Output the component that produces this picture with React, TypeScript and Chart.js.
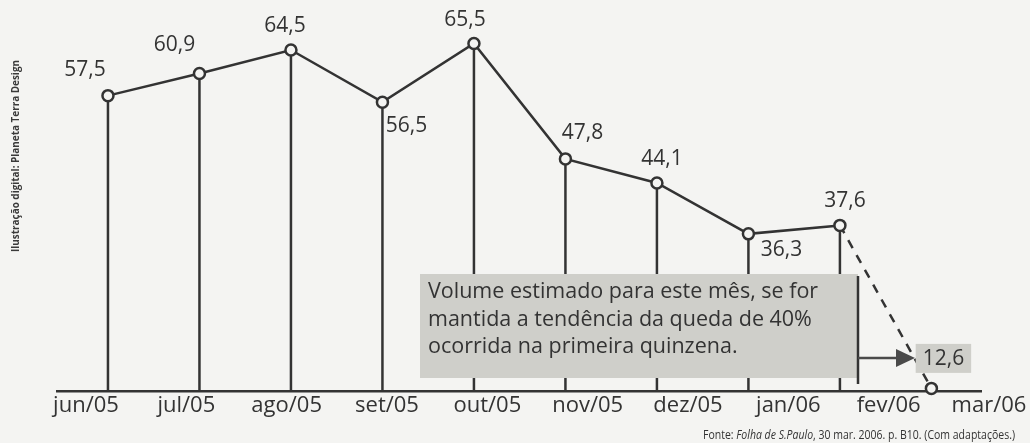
import React, { useEffect, useRef } from 'react';
import { Chart, registerables } from 'chart.js';

Chart.register(...registerables);

// ---- data ----
const months = ['jun/05', 'jul/05', 'ago/05', 'set/05', 'out/05', 'nov/05', 'dez/05', 'jan/06', 'fev/06', 'mar/06'];
const volume = [57.5, 60.9, 64.5, 56.5, 65.5, 47.8, 44.1, 36.3, 37.6, 12.6];
const estimated = [false, false, false, false, false, false, false, false, false, true];

// ---- texts ----
const calloutLines = [
  'Volume estimado para este mês, se for',
  'mantida a tendência da queda de 40%',
  'ocorrida na primeira quinzena.',
];
const sourceParts = [
  { text: 'Fonte: ', italic: false },
  { text: 'Folha de S.Paulo', italic: true },
  { text: ', 30 mar. 2006. p. B10. (Com adaptações.)', italic: false },
];
const creditText = 'Ilustração digital: Planeta Terra Design';

// ---- layout / style (not data) ----
const labelOffsets: [number, number][] = [
  [-23, -27], [-25, -29], [-6, -25], [24, 23], [-9, -24],
  [17, -27], [5, -25], [33, 15], [5, -25], [12, -30],
];
const INK = '#333333';
const BG = '#f4f4f2';
const BOX = '#cfcfca';
const FONT = '"Open Sans", "Noto Sans", sans-serif';

const fmt = (v: number) => v.toFixed(1).replace('.', ',');

const dropLines = {
  id: 'dropLines',
  beforeDatasetsDraw(chart: any) {
    const { ctx, chartArea } = chart;
    const meta = chart.getDatasetMeta(0);
    ctx.save();
    ctx.strokeStyle = INK;
    ctx.lineWidth = 2.5;
    meta.data.forEach((pt: any) => {
      ctx.beginPath();
      ctx.moveTo(pt.x, pt.y);
      ctx.lineTo(pt.x, chartArea.bottom);
      ctx.stroke();
    });
    ctx.restore();
  },
};

const annotations = {
  id: 'annotations',
  afterDatasetsDraw(chart: any) {
    const { ctx } = chart;
    const meta = chart.getDatasetMeta(0);
    ctx.save();

    // callout box
    ctx.fillStyle = BOX;
    ctx.fillRect(420, 274, 438, 104);
    ctx.strokeStyle = INK;
    ctx.lineWidth = 2.5;
    ctx.beginPath();
    ctx.moveTo(858, 276);
    ctx.lineTo(858, 384);
    ctx.stroke();
    ctx.fillStyle = INK;
    ctx.font = `21.5px ${FONT}`;
    ctx.textAlign = 'left';
    ctx.textBaseline = 'alphabetic';
    calloutLines.forEach((line, i) => ctx.fillText(line, 428, 298 + i * 27.5));

    // arrow
    ctx.strokeStyle = '#4a4a4a';
    ctx.fillStyle = '#4a4a4a';
    ctx.beginPath();
    ctx.moveTo(858, 358);
    ctx.lineTo(899, 358);
    ctx.stroke();
    ctx.beginPath();
    ctx.moveTo(896, 349);
    ctx.lineTo(915, 358);
    ctx.lineTo(896, 367);
    ctx.closePath();
    ctx.fill();

    // value labels
    ctx.font = `21px ${FONT}`;
    ctx.textAlign = 'center';
    ctx.textBaseline = 'middle';
    meta.data.forEach((pt: any, i: number) => {
      const [dx, dy] = labelOffsets[i];
      const txt = fmt(volume[i]);
      const cx = pt.x + dx;
      const cy = pt.y + dy;
      if (estimated[i]) {
        const w = ctx.measureText(txt).width + 14;
        ctx.fillStyle = BOX;
        ctx.fillRect(cx - w / 2, cy - 14.5, w, 29);
      }
      ctx.fillStyle = INK;
      ctx.fillText(txt, cx, cy + 1);
    });

    // vertical credit
    ctx.save();
    ctx.translate(16, 156);
    ctx.rotate(-Math.PI / 2);
    ctx.font = `bold 11px ${FONT}`;
    const cw = ctx.measureText(creditText).width;
    ctx.scale(192 / cw, 1);
    ctx.fillStyle = '#3a3a3a';
    ctx.textAlign = 'center';
    ctx.textBaseline = 'middle';
    ctx.fillText(creditText, 0, 0);
    ctx.restore();

    // source
    ctx.save();
    const fonts = sourceParts.map(p => `${p.italic ? 'italic ' : ''}12px ${FONT}`);
    let total = 0;
    const widths = sourceParts.map((p, i) => {
      ctx.font = fonts[i];
      const w = ctx.measureText(p.text).width;
      total += w;
      return w;
    });
    const target = 312;
    const sx = target / total;
    ctx.translate(1015 - target, 439);
    ctx.scale(sx, 1);
    ctx.fillStyle = '#333';
    ctx.textAlign = 'left';
    ctx.textBaseline = 'alphabetic';
    let x = 0;
    sourceParts.forEach((p, i) => {
      ctx.font = fonts[i];
      ctx.fillText(p.text, x, 0);
      x += widths[i];
    });
    ctx.restore();

    ctx.restore();
  },
};

export default function App() {
  const ref = useRef<HTMLCanvasElement>(null);

  useEffect(() => {
    if (!ref.current) return;
    Chart.defaults.font.family = FONT;
    const chart = new Chart(ref.current, {
      type: 'line',
      data: {
        datasets: [
          {
            data: volume.map((v, i) => ({ x: i, y: v })),
            borderColor: INK,
            borderWidth: 2.5,
            pointRadius: 5.5,
            pointBorderWidth: 2.5,
            pointBackgroundColor: BG,
            pointBorderColor: INK,
            tension: 0,
            fill: false,
            clip: false as any,
            segment: {
              borderDash: (c: any) => (estimated[c.p1DataIndex] ? [9, 8] : undefined),
            },
          },
        ],
      },
      options: {
        animation: false,
        responsive: false,
        layout: { padding: { left: 57, right: 48, top: 20, bottom: 22 } },
        plugins: { legend: { display: false }, tooltip: { enabled: false } },
        scales: {
          x: { type: 'linear', min: -0.557, max: 9.546, display: false },
          xl: {
            type: 'linear',
            position: 'bottom',
            min: -0.289,
            max: 8.924,
            grid: { display: false, drawTicks: false },
            border: { display: true, color: INK, width: 2.5 },
            ticks: {
              autoSkip: false,
              maxRotation: 0,
              padding: 4,
              color: INK,
              font: { size: 22, lineHeight: 1 },
              callback: (v: any) => months[v as number] ?? '',
            },
            afterBuildTicks: (axis: any) => {
              axis.ticks = months.map((_, i) => ({ value: i }));
            },
          },
          y: { type: 'linear', min: 12.2, max: 69.1, display: false },
        },
      } as any,
      plugins: [dropLines, annotations],
    });
    return () => chart.destroy();
  }, []);

  return (
    <div style={{ position: 'fixed', left: 0, top: 0, width: 1030, height: 443, background: BG }}>
      <canvas ref={ref} width={1030} height={443} style={{ display: 'block' }} />
    </div>
  );
}
